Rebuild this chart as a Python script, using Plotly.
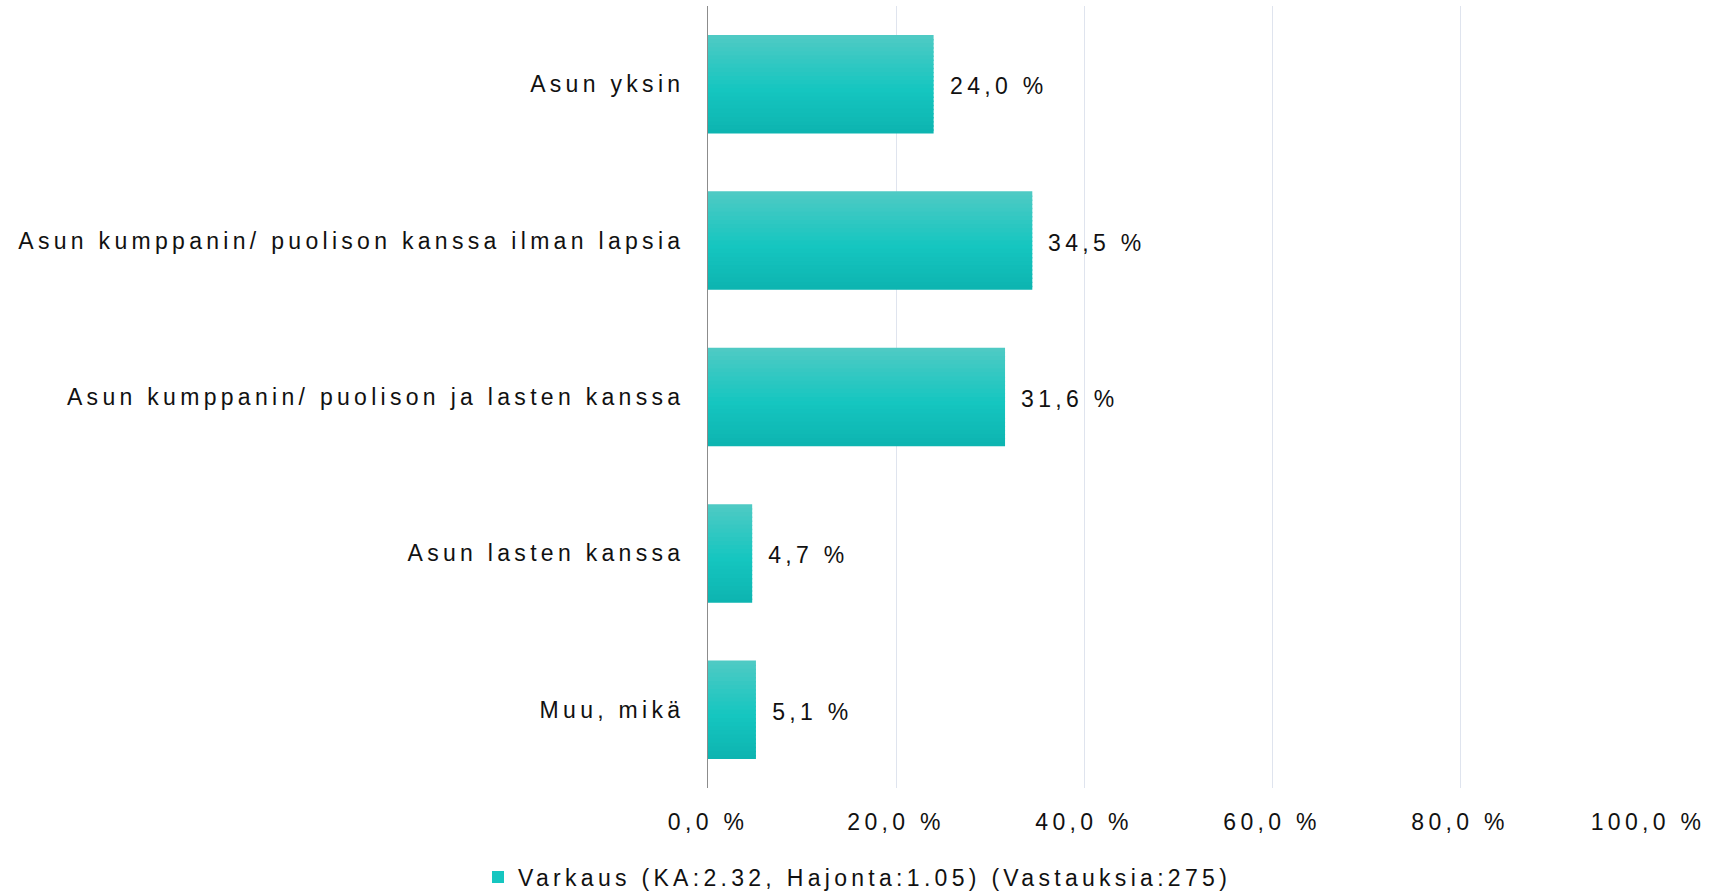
import plotly.graph_objects as go

categories = [
    "Asun yksin",
    "Asun kumppanin/ puolison kanssa ilman lapsia",
    "Asun kumppanin/ puolison ja lasten kanssa",
    "Asun lasten kanssa",
    "Muu, mikä",
]
values = [24.0, 34.5, 31.6, 4.7, 5.1]
series_name = "Varkaus (KA:2.32, Hajonta:1.05) (Vastauksia:275)"
x_ticks = [0, 20, 40, 60, 80, 100]


def fmt(v):
    return ("%.1f %%" % v).replace(".", ",")


x_ticktext = [fmt(v) for v in x_ticks]

FONT = "Liberation Sans, Arial, sans-serif"
FS = 23
LS = 4.3  # letter spacing in px
TXT = "#111111"

# vertical gradient stops (top -> middle -> bottom)
stops = [(0.0, (80, 202, 196)), (0.55, (21, 198, 192)), (1.0, (13, 180, 176))]


def grad(t):
    for (t0, c0), (t1, c1) in zip(stops[:-1], stops[1:]):
        if t <= t1:
            f = (t - t0) / (t1 - t0)
            return "rgb(%d,%d,%d)" % tuple(round(a + (b - a) * f) for a, b in zip(c0, c1))
    return "rgb(%d,%d,%d)" % stops[-1][1]


BAR_W = 0.63
N = 24
sw = BAR_W / N

fig = go.Figure()
for k in range(N):
    t = (k + 0.5) / N
    w = sw * 1.35 if k < N - 1 else sw
    fig.add_trace(go.Bar(
        x=values, y=categories, orientation="h",
        width=w, offset=-BAR_W / 2 + k * sw,
        marker=dict(color=grad(t), line=dict(width=0)),
        showlegend=False, hoverinfo="skip",
    ))

# legend entry
fig.add_trace(go.Bar(
    x=[None], y=[categories[0]], orientation="h",
    marker=dict(color=grad(0.55), line=dict(width=0)),
    name=series_name, showlegend=True,
))

for c, v in zip(categories, values):
    label = fmt(v)
    fig.add_annotation(
        x=v, y=c, xref="x", yref="y", xanchor="left", yanchor="middle",
        xshift=14 + len(label) * LS / 2, yshift=-2, showarrow=False,
        text=label,
        font=dict(family=FONT, size=FS, color=TXT),
    )

fig.update_layout(
    width=1714, height=894,
    margin=dict(l=708, r=66, t=6, b=106),
    barmode="overlay",
    plot_bgcolor="white", paper_bgcolor="white",
    font=dict(family=FONT, size=FS, color=TXT),
    xaxis=dict(
        range=[0, 100], tickmode="array", tickvals=x_ticks, ticktext=x_ticktext,
        showgrid=True, gridcolor="#dfe4ee", gridwidth=1,
        zeroline=False, showline=False, ticks="",
        ticklabelstandoff=18,
        tickfont=dict(family=FONT, size=FS, color=TXT),
        fixedrange=True,
    ),
    yaxis=dict(
        categoryorder="array", categoryarray=categories, autorange="reversed",
        showgrid=False, zeroline=False,
        showline=True, linecolor="#8c8c8c", linewidth=1,
        ticks="", ticklabelstandoff=18,
        tickfont=dict(family=FONT, size=FS, color=TXT),
        fixedrange=True,
    ),
    legend=dict(
        orientation="h", xref="container", yref="container",
        x=478 / 1714, xanchor="left", y=1 - 877 / 894, yanchor="middle",
        font=dict(family=FONT, size=FS, color=TXT),
        bgcolor="rgba(0,0,0,0)", itemwidth=30,
        entrywidth=780, entrywidthmode="pixels",
    ),
    showlegend=True,
)

post = """
(function(){
  document.documentElement.style.margin='0';
  document.body.style.margin='0';
  document.body.style.overflow='hidden';
  function ls(){
    document.querySelectorAll('.main-svg text').forEach(function(t){
      t.style.letterSpacing='%LS%px';
    });
  }
  ls();
  var gd=document.getElementById('{plot_id}');
  if(gd && gd.on){ gd.on('plotly_afterplot', ls); }
})();
""".replace("%LS%", str(LS))

fig.write_html("out.html", post_script=post, config={"displayModeBar": False})
